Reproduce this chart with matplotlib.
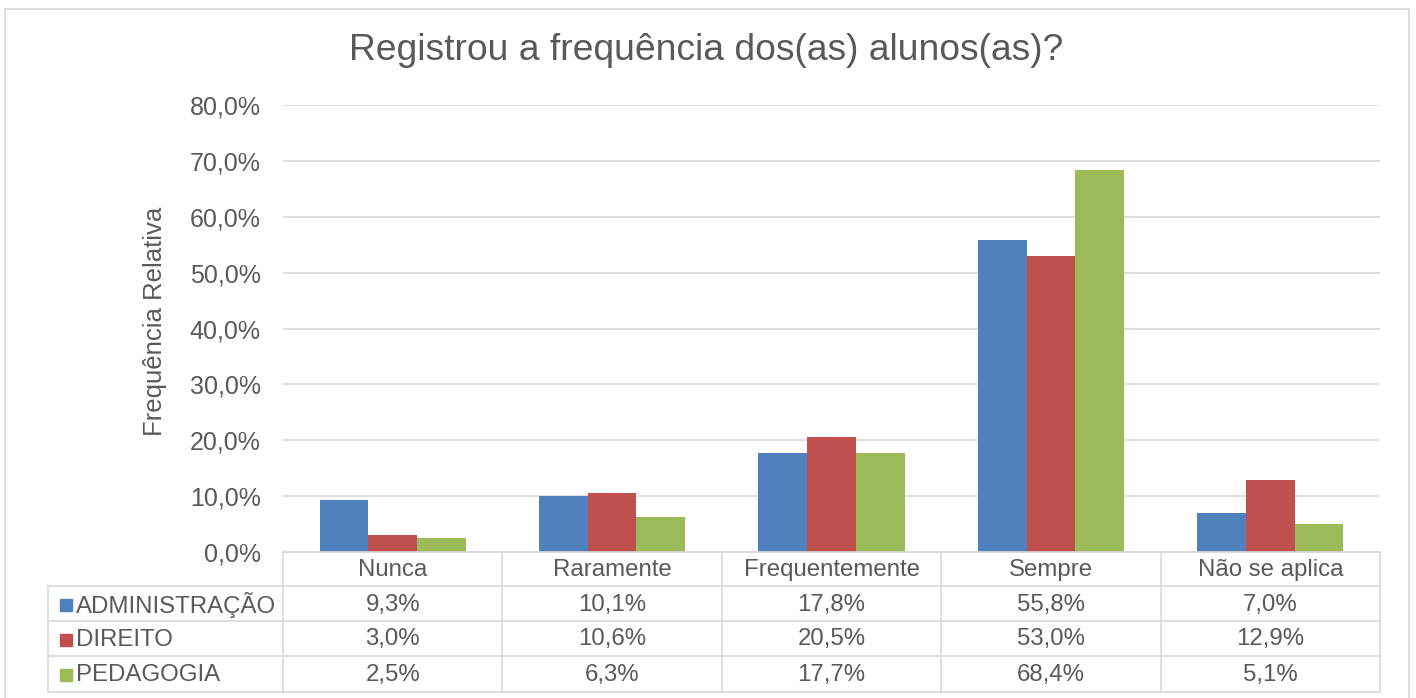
import matplotlib
matplotlib.use("Agg")
import matplotlib.pyplot as plt
from matplotlib.patches import Rectangle
import numpy as np

plt.rcParams['font.family'] = ['Liberation Sans', 'DejaVu Sans']

categories = ["Nunca", "Raramente", "Frequentemente", "Sempre", "Não se aplica"]
series_names = ["ADMINISTRAÇÃO", "DIREITO", "PEDAGOGIA"]
administracao = [9.3, 10.1, 17.8, 55.8, 7.0]
direito = [3.0, 10.6, 20.5, 53.0, 12.9]
pedagogia = [2.5, 6.3, 17.7, 68.4, 5.1]
yticks = [0, 10, 20, 30, 40, 50, 60, 70, 80]
title = "Registrou a frequência dos(as) alunos(as)?"
ylabel = "Frequência Relativa"

colors = ["#4F81BD", "#C0504D", "#9BBB59"]
text_color = "#595959"
line_color = "#D9D9D9"
fs = 17.3

W, H = 1416, 698
fig = plt.figure(figsize=(W / 100, H / 100), dpi=100)

def px_axes(x0, y0, x1, y1):
    return fig.add_axes([x0 / W, 1 - y1 / H, (x1 - x0) / W, (y1 - y0) / H])

# Outer chart border
fig.patches.append(Rectangle((5 / W, -0.01), (1409 - 5) / W, 1 - 9 / H + 0.01,
                             transform=fig.transFigure, fill=False,
                             edgecolor=line_color, linewidth=1.2))

# Main plot area
ax_left, ax_right, ax_top, ax_bottom = 283, 1380, 105, 552
ax = px_axes(ax_left, ax_top, ax_right, ax_bottom)
n = len(categories)
x = np.arange(n)
bw = 0.222
series = [administracao, direito, pedagogia]
for i, (vals, c) in enumerate(zip(series, colors)):
    ax.bar(x + (i - 1) * bw, vals, width=bw, color=c, zorder=3)
ax.set_xlim(-0.5, n - 0.5)
ax.set_ylim(0, 80)
ax.set_yticks(yticks)
ax.set_yticklabels([f"{v:.1f}%".replace(".", ",") for v in yticks],
                   fontsize=18, color=text_color)
ax.tick_params(axis='y', length=0, pad=16)
ax.set_xticks([])
ax.grid(axis='y', color=line_color, linewidth=1.2, zorder=0)
for s in ["top", "right", "left"]:
    ax.spines[s].set_visible(False)
ax.spines["bottom"].set_color(line_color)
ax.spines["bottom"].set_linewidth(1.2)

fig.text(155 / W, 1 - 321 / H, ylabel, fontsize=18.5, color=text_color,
         rotation=90, ha="center", va="center")
fig.text(706 / W, 1 - 51 / H, title, fontsize=26.8, color=text_color,
         ha="center", va="center")

# Data table
tab_left, tab_right = 48, 1380
row_edges = [552, 586, 621, 656, 692]
cw = (ax_right - ax_left) / n
tax = px_axes(tab_left, row_edges[0], tab_right, row_edges[-1])
x_left = -0.5 - (ax_left - tab_left) / cw
tax.set_xlim(x_left, n - 0.5)
tax.set_ylim(row_edges[-1], row_edges[0])
tax.axis("off")
lw = 1.2
tax.plot([-0.5, n - 0.5], [row_edges[0]] * 2, color=line_color, lw=lw, clip_on=False)
for yv in row_edges[1:]:
    tax.plot([x_left, n - 0.5], [yv] * 2, color=line_color, lw=lw, clip_on=False)
tax.plot([x_left] * 2, [row_edges[1], row_edges[-1]], color=line_color, lw=lw, clip_on=False)
for k in range(n + 1):
    tax.plot([k - 0.5] * 2, [row_edges[0], row_edges[-1]], color=line_color, lw=lw, clip_on=False)
for k, cat in enumerate(categories):
    tax.text(k, (row_edges[0] + row_edges[1]) / 2 + 1, cat, ha="center", va="center",
             fontsize=fs, color=text_color)
sq = 12 / cw
for r, (name, vals, c) in enumerate(zip(series_names, series, colors)):
    yc = (row_edges[r + 1] + row_edges[r + 2]) / 2 + 1
    tax.add_patch(Rectangle((x_left + 12 / cw, yc - 6), sq, 12, color=c, clip_on=False))
    tax.text(x_left + 28 / cw, yc, name, ha="left", va="center", fontsize=fs, color=text_color)
    for k, v in enumerate(vals):
        tax.text(k, yc, f"{v:.1f}%".replace(".", ","), ha="center", va="center",
                 fontsize=fs, color=text_color)

fig.savefig("out.png", dpi=100)
